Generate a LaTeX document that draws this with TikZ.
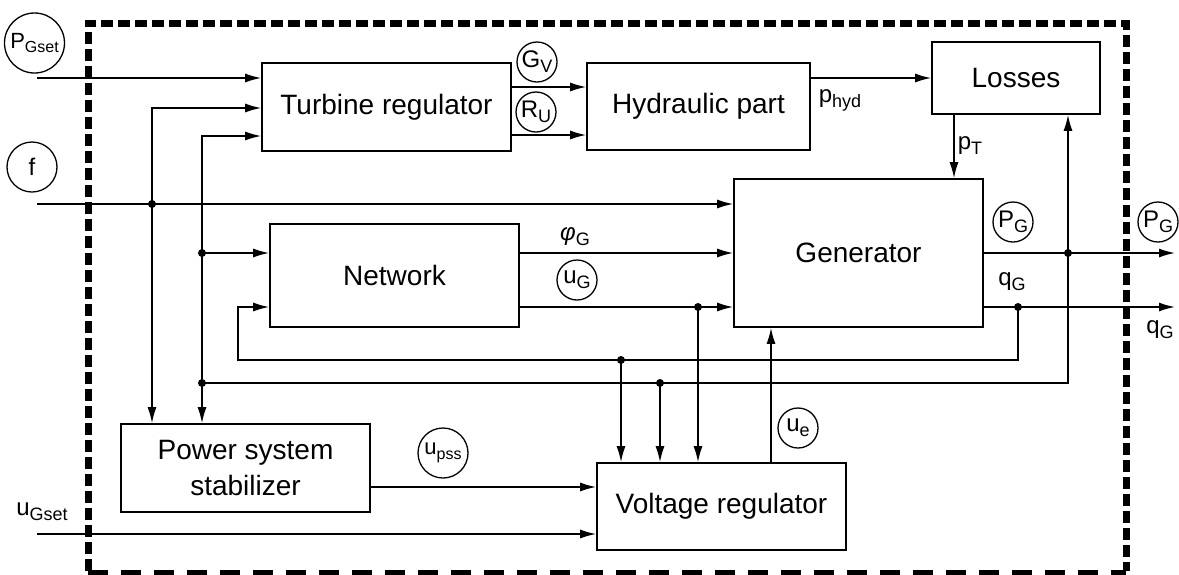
\documentclass[tikz,border=0pt]{standalone}
\usepackage{fontspec}
\setmainfont{Liberation Sans}
\usetikzlibrary{arrows.meta,positioning,calc}
\newcommand{\lsub}[1]{\raisebox{-0.4ex}{\fontsize{18}{20}\selectfont #1}}
\newcommand{\lsubs}[1]{\raisebox{-0.4ex}{\fontsize{16}{18}\selectfont #1}}

\begin{document}
\begin{tikzpicture}[
    x=1pt, y=-1pt,
    block/.style={draw, line width=1.6pt, align=center, inner sep=0pt, font=\fontsize{28}{36}\selectfont},
    lbl/.style={font=\fontsize{24}{26}\selectfont, inner sep=1pt},
    circ/.style={lbl, draw, circle, line width=1.3pt, minimum size=40pt, inner sep=0pt},
    arr/.style={-{Latex[length=16pt,width=9pt]}, line width=1.6pt},
    wire/.style={line width=1.6pt},
    dot/.style={circle, fill, inner sep=0pt, minimum size=8pt},
    frame/.style={line width=7pt, dash pattern=on 12pt off 5pt},
    framebot/.style={line width=6pt, dash pattern=on 20pt off 13pt}
]
\useasboundingbox (0,0) rectangle (1179,574);
\draw[frame] (88,571) -- (88,23) -- (1126,23) -- (1126,571);
\draw[framebot] (88,573) -- (1126,573);

\node[block, minimum width=249pt, minimum height=88pt] (tr) at (386.5,107) {Turbine regulator};
\node[block, minimum width=223pt, minimum height=87pt] (hyd) at (698.5,106.5) {Hydraulic part};
\node[block, minimum width=168pt, minimum height=72pt] (los) at (1016,78) {Losses};
\node[block, minimum width=249pt, minimum height=148pt] (gen) at (858.5,253) {Generator};
\node[block, minimum width=249pt, minimum height=103pt] (net) at (394.5,275.5) {Network};
\node[block, minimum width=249pt, minimum height=88pt] (pss) at (245.5,468) {Power system\\stabilizer};
\node[block, minimum width=249pt, minimum height=87pt] (vr) at (721.5,506.5) {Voltage regulator};

\coordinate (pin) at (37,78);
\coordinate (fin) at (37,204);
\coordinate (uin) at (37,534);
\coordinate (jf) at (152,204);
\coordinate (c1) at (152,108);
\coordinate (c2) at (202,136);
\coordinate (jn) at (202,253);
\coordinate (jl) at (202,383);
\coordinate (jp) at (1068,253);
\coordinate (jb) at (1068,383);
\coordinate (jq) at (1018,307);
\coordinate (qb) at (1018,360);
\coordinate (jr) at (621,360);
\coordinate (jv) at (660,383);
\coordinate (ju) at (698,307);
\coordinate (nb) at (238,360);
\coordinate (nt) at (238,307);
\coordinate (pout) at (1175,253);
\coordinate (qout) at (1175,307);
\coordinate (gv) at (511,87);
\coordinate (ru) at (511,135);
\coordinate (pt) at (954,113);
\coordinate (ue) at (771,463);
\coordinate (ps) at (370,487);

\draw[arr] (pin) -- (pin -| tr.west);
\draw[arr] (fin) -- (fin -| gen.west);
\draw[arr] (uin) -- (uin -| vr.west);
\draw[arr] (jf) -- (c1) -- (c1 -| tr.west);
\draw[arr] (jf) -- (jf |- pss.north);
\draw[arr] (jl) -- (c2) -- (c2 -| tr.west);
\draw[arr] (jl) -- (jl |- pss.north);
\draw[arr] (jn) -- (jn -| net.west);
\draw[arr] (gv) -- (gv -| hyd.west);
\draw[arr] (ru) -- (ru -| hyd.west);
\draw[arr] (hyd.east |- los.west) -- (los.west);
\draw[arr] (pt) -- (pt |- gen.north);
\draw[arr] (jn -| net.east) -- (jn -| gen.west);
\draw[arr] (nt -| net.east) -- (nt -| gen.west);
\draw[arr] (gen.east) -- (pout);
\draw[arr] (qout -| gen.east) -- (qout);
\draw[arr] (jp) -- (jp |- los.south);
\draw[wire] (jp) -- (jb) -- (jl);
\draw[arr] (jq) -- (qb) -- (nb) -- (nt) -- (nt -| net.west);
\draw[arr] (jr) -- (jr |- vr.north);
\draw[arr] (jv) -- (jv |- vr.north);
\draw[arr] (ju) -- (ju |- vr.north);
\draw[arr] (ue) -- (ue |- gen.south);
\draw[arr] (ps) -- (ps -| vr.west);

\foreach \j in {jf,jn,jl,jp,jq,jr,jv,ju}
    \node[dot] (d-\j) at (\j) {};

\node[circ, minimum size=60pt, font=\fontsize{22}{24}\selectfont] (lpgset) at (34.5,43) {P\lsubs{Gset}};
\node[circ, minimum size=50pt] (lf) at (32,167) {f};
\node[circ] (lgv) at (537,62) {G\lsub{V}};
\node[circ] (lru) at (536,112) {R\lsub{U}};
\node[circ] (lpg) at (1013,222) {P\lsub{G}};
\node[circ] (lpgo) at (1158,222) {P\lsub{G}};
\node[lbl] (lqg) at (1012,282) {q\lsub{G}};
\node[lbl] (lqgo) at (1160,330) {q\lsub{G}};
\node[lbl] (lphi) at (575,237) {\textit{φ}\lsub{G}};
\node[circ] (lug) at (577,280) {u\lsub{G}};
\node[circ, minimum size=50pt, font=\fontsize{22}{24}\selectfont] (lups) at (443,453) {u\lsubs{pss}};
\node[circ] (lue) at (798,428) {u\lsub{e}};
\node[lbl] (lph) at (840,100) {p\lsub{hyd}};
\node[lbl] (lpt) at (970,146) {p\lsub{T}};
\node[lbl] (lugs) at (42,512) {u\lsub{Gset}};
\end{tikzpicture}
\end{document}
